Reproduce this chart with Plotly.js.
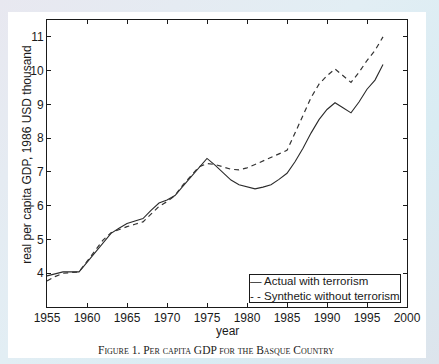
<!DOCTYPE html>
<html>
<head>
<meta charset="utf-8">
<script src="https://cdn.plot.ly/plotly-3.0.1.min.js"></script>
<style>
  html, body { margin: 0; padding: 0; width: 439px; height: 364px; overflow: hidden; }
  body { background: linear-gradient(135deg, #e8e8f0 0%, #e2eef4 45%, #d9ecf3 70%, #dde4ec 100%); position: relative; }
  #chart { position: absolute; left: 8px; top: 12px; width: 418px; height: 346px; background: #ffffff; }
</style>
</head>
<body>
<div id="chart"></div>
<script>
// ---- data ----
const years = [1955,1956,1957,1958,1959,1960,1961,1962,1963,1964,1965,1966,1967,1968,1969,1970,
               1971,1972,1973,1974,1975,1976,1977,1978,1979,1980,1981,1982,1983,1984,1985,1986,
               1987,1988,1989,1990,1991,1992,1993,1994,1995,1996,1997];
const actualGDP = [3.92,3.98,4.04,4.04,4.04,4.32,4.60,4.90,5.18,5.33,5.47,5.55,5.62,5.86,6.08,6.17,
                   6.30,6.58,6.85,7.12,7.40,7.20,6.97,6.76,6.62,6.55,6.50,6.55,6.62,6.78,6.96,7.30,
                   7.70,8.15,8.55,8.85,9.05,8.90,8.75,9.07,9.45,9.72,10.18];
const syntheticGDP = [3.77,3.90,4.00,4.03,4.04,4.35,4.68,4.98,5.20,5.30,5.38,5.45,5.52,5.75,5.98,6.12,
                      6.30,6.62,6.90,7.15,7.25,7.22,7.15,7.08,7.06,7.12,7.22,7.33,7.44,7.55,7.64,8.15,
                      8.70,9.20,9.60,9.85,10.05,9.85,9.65,9.95,10.30,10.60,11.00];
const seriesNames = ["Actual with terrorism", "Synthetic without terrorism"];
const xTicks = [1955,1960,1965,1970,1975,1980,1985,1990,1995,2000];
const yTicks = [4,5,6,7,8,9,10,11];
const xTitle = "year";
const yTitle = "real per capita GDP, 1986 USD thousand";
const caption = "Figure 1. Per capita GDP for the Basque Country";

const font = "Liberation Sans, Arial, Helvetica, sans-serif";
const ink = "#1a1a1a";

const traces = [
  { x: years, y: actualGDP, name: seriesNames[0], type: "scatter", mode: "lines",
    line: { color: "#2a2a2a", width: 1.1 }, showlegend: false },
  { x: years, y: syntheticGDP, name: seriesNames[1], type: "scatter", mode: "lines",
    line: { color: "#333333", width: 1.2, dash: "5px,4px" }, showlegend: false }
];

const axisCommon = {
  showline: true, linecolor: ink, linewidth: 1, mirror: "ticks",
  ticks: "inside", ticklen: 4, tickcolor: ink, tickwidth: 1,
  showgrid: false, zeroline: false,
  tickfont: { family: font, size: 12, color: ink }
};

const layout = {
  width: 418, height: 346,
  margin: { l: 39, r: 19, t: 8, b: 51 },
  paper_bgcolor: "#ffffff", plot_bgcolor: "#ffffff",
  showlegend: false,
  xaxis: Object.assign({}, axisCommon, {
    range: [1955, 2000], tickvals: xTicks, ticktext: xTicks.map(String)
  }),
  yaxis: Object.assign({}, axisCommon, {
    range: [3, 11.5], tickvals: yTicks, ticktext: yTicks.map(String)
  }),
  annotations: [
    { text: yTitle, xref: "paper", yref: "paper", x: -0.056, y: 0.533,
      xanchor: "center", yanchor: "middle", textangle: -90, showarrow: false,
      font: { family: font, size: 12, color: ink } },
    { text: xTitle, xref: "paper", yref: "paper", x: 0.5, y: -0.082,
      xanchor: "center", yanchor: "middle", showarrow: false,
      font: { family: font, size: 12, color: ink } },
    { text: "— " + seriesNames[0] + "<br>- - " + seriesNames[1],
      xref: "paper", yref: "paper", x: 0.983, y: 0.014,
      xanchor: "right", yanchor: "bottom", align: "left", showarrow: false,
      bordercolor: ink, borderwidth: 1, borderpad: 0, bgcolor: "#ffffff",
      font: { family: font, size: 11.5, color: ink } },
    { text: caption, xref: "paper", yref: "paper", x: 0.47, y: -0.150,
      xanchor: "center", yanchor: "middle", showarrow: false,
      font: { family: "Liberation Serif, Times New Roman, serif", size: 11.5, color: "#222", variant: "small-caps" } }
  ]
};

Plotly.newPlot("chart", traces, layout, { displayModeBar: false, staticPlot: true });
</script>
</body>
</html>
